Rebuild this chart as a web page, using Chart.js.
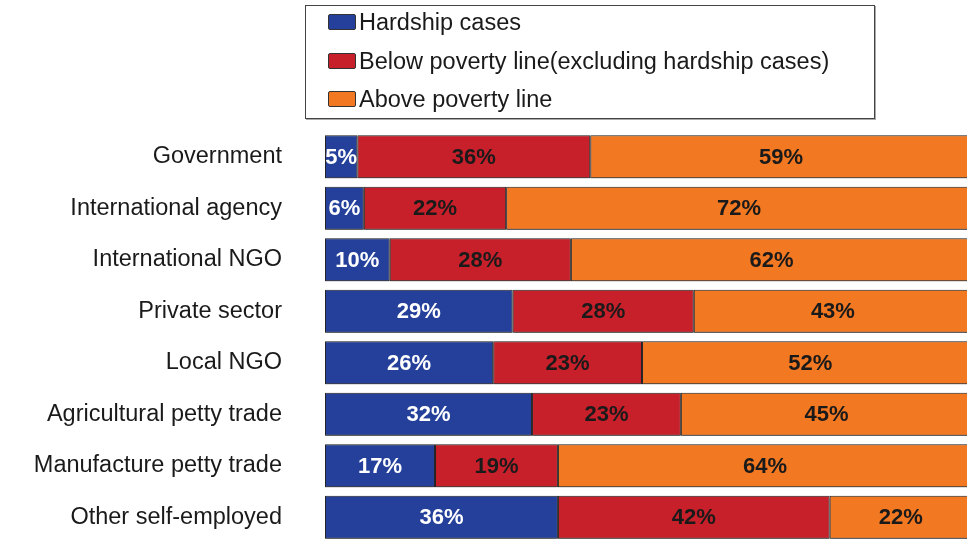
<!DOCTYPE html>
<html>
<head>
<meta charset="utf-8">
<script src="https://cdn.jsdelivr.net/npm/chart.js@4.4.1/dist/chart.umd.min.js"></script>
<style>
  html, body { margin: 0; padding: 0; background: #fff; overflow: hidden; }
  #wrap { position: relative; width: 975px; height: 557px; }
  #legend {
    position: absolute; left: 305px; top: 5px; width: 568px; height: 112px;
    border: 1px solid #444; box-shadow: 1px 1px 0 #aaa;
    font-family: "Liberation Sans", Arial, sans-serif; font-size: 23.5px; color: #1a1a1a;
    background: #fff;
  }
  #legend .item { position: absolute; left: 22px; height: 26px; line-height: 26px; white-space: nowrap; }
  #legend .sw {
    display: inline-block; width: 26px; height: 14px; margin-right: 3px;
    border: 1px solid #333; border-radius: 2px; vertical-align: 0px;
  }
</style>
</head>
<body>
<div id="wrap">
  <canvas id="myChart" width="975" height="557"></canvas>
  <div id="legend"></div>
</div>
<script>
// categories and series (percent of households)
var categories = ['Government', 'International agency', 'International NGO', 'Private sector',
  'Local NGO', 'Agricultural petty trade', 'Manufacture petty trade', 'Other self-employed'];

var hardship = [5, 6, 10, 29, 26, 32, 17, 36];
var belowPoverty = [36, 22, 28, 28, 23, 23, 19, 42];
var abovePoverty = [59, 72, 62, 43, 52, 45, 64, 22];

var seriesNames = ['Hardship cases', 'Below poverty line(excluding hardship cases)', 'Above poverty line'];
var seriesColors = ['#24409a', '#c8202a', '#f37822'];
var labelColors = ['#ffffff', '#1a1a1a', '#1a1a1a'];

var data = {
  labels: categories,
  datasets: [
    { label: seriesNames[0], data: hardship, backgroundColor: seriesColors[0] },
    { label: seriesNames[1], data: belowPoverty, backgroundColor: seriesColors[1] },
    { label: seriesNames[2], data: abovePoverty, backgroundColor: seriesColors[2] }
  ]
};

// shadow under the bars + percent labels inside each segment
var barExtras = {
  id: 'barExtras',
  beforeDatasetsDraw: function(chart) {
    var c = chart.ctx;
    c.save();
    c.shadowColor = 'rgba(0,0,0,0.45)';
    c.shadowBlur = 2;
    c.shadowOffsetX = 0;
    c.shadowOffsetY = 1;
  },
  afterDatasetsDraw: function(chart) {
    var c = chart.ctx;
    c.restore();
    var area = chart.chartArea;
    c.save();
    c.beginPath();
    c.rect(area.left, area.top, area.right - area.left, area.bottom - area.top);
    c.clip();
    c.font = 'bold 22px "Liberation Sans", Arial, sans-serif';
    c.textAlign = 'center';
    c.textBaseline = 'middle';
    chart.data.datasets.forEach(function(ds, i) {
      var meta = chart.getDatasetMeta(i);
      c.fillStyle = labelColors[i];
      meta.data.forEach(function(bar, j) {
        var cx = (bar.x + bar.base) / 2;
        c.fillText(ds.data[j] + '%', cx, bar.y + 1);
      });
    });
    c.restore();
  }
};

var ctx = document.getElementById('myChart').getContext('2d');
var myChart = new Chart(ctx, {
  type: 'bar',
  data: data,
  plugins: [barExtras],
  options: {
    indexAxis: 'y',
    responsive: false,
    animation: false,
    layout: { autoPadding: false, padding: { top: 131, right: 3, bottom: 2, left: 0 } },
    datasets: {
      bar: {
        barPercentage: 1,
        categoryPercentage: 0.835,
        borderColor: '#2a2a2a',
        borderWidth: 1,
        borderSkipped: false
      }
    },
    scales: {
      x: {
        stacked: true,
        min: 0,
        max: 100,
        display: false
      },
      y: {
        stacked: true,
        // tickLength (not drawn) gives the gap between labels and bars
        grid: { display: false, drawTicks: true, tickLength: 43 },
        border: { display: false },
        afterFit: function(scale) { scale.width = 325; },
        ticks: {
          padding: 0,
          color: '#1a1a1a',
          font: { family: '"Liberation Sans", Arial, sans-serif', size: 23.5 }
        }
      }
    },
    plugins: {
      legend: { display: false },
      tooltip: { enabled: false }
    }
  }
});

// legend box built from the datasets
var legendTops = [3, 42, 80];
var legend = document.getElementById('legend');
data.datasets.forEach(function(ds, i) {
  var item = document.createElement('div');
  item.className = 'item';
  item.style.top = legendTops[i] + 'px';
  var sw = document.createElement('span');
  sw.className = 'sw';
  sw.style.background = ds.backgroundColor;
  item.appendChild(sw);
  item.appendChild(document.createTextNode(ds.label));
  legend.appendChild(item);
});
</script>
</body>
</html>
